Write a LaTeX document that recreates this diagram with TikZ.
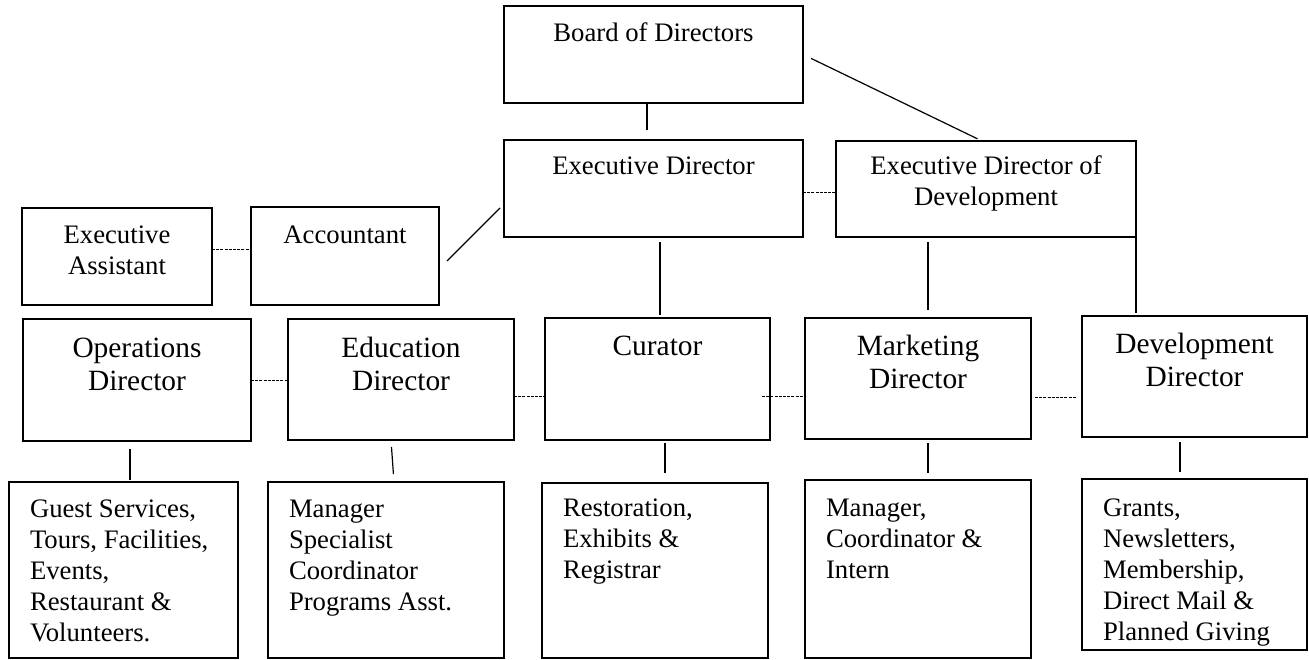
\documentclass[tikz,border=0pt]{standalone}
\usepackage{fontspec}
\setmainfont{Liberation Serif}
\usetikzlibrary{calc}
\newcommand{\fontA}{\fontsize{26.7pt}{31pt}\selectfont}
\newcommand{\fontB}{\fontsize{29.4pt}{33pt}\selectfont}
% centred box text: width, height, first baseline, font, text
\newcommand{\cbx}[5]{\begin{minipage}[t][#2][t]{#1}\centering#4\rule{0pt}{#3}#5\end{minipage}}
% left-aligned box text: width, height, first baseline, text
\newcommand{\lbx}[4]{\begin{minipage}[t][#2][t]{#1}\raggedright\leftskip=21pt\fontA\rule{0pt}{#3}#4\end{minipage}}
\tikzset{
  orgbox/.style={draw=black, line width=1.8pt, inner sep=0pt, outer sep=0pt, anchor=north west},
  link/.style={draw=black, line width=1.2pt},
  dotlink/.style={draw=black, line width=1pt, dash pattern=on 3pt off 1.2pt}
}
\begin{document}
\begin{tikzpicture}[x=1pt, y=-1pt]
\useasboundingbox (0,0) rectangle (1309,660);

% top level
\node[orgbox] (board) at (504,6) {\cbx{299pt}{97pt}{36pt}{\fontA}{Board of Directors}};
\node[orgbox] (ed) at (504,140) {\cbx{299pt}{97pt}{35pt}{\fontA}{Executive Director}};
\node[orgbox] (edd) at (836,141) {\cbx{300pt}{96pt}{34pt}{\fontA}{Executive Director of\\Development}};
\node[orgbox] (ea) at (22,208) {\cbx{190pt}{97pt}{36pt}{\fontA}{Executive\\Assistant}};
\node[orgbox] (acc) at (251,207) {\cbx{188pt}{98pt}{37pt}{\fontA}{Accountant}};

% directors row
\node[orgbox] (ops) at (23,319) {\cbx{228pt}{122pt}{38pt}{\fontB}{Operations\\Director}};
\node[orgbox] (edu) at (288,319) {\cbx{226pt}{121pt}{38pt}{\fontB}{Education\\Director}};
\node[orgbox] (cur) at (545,318) {\cbx{225pt}{122pt}{37pt}{\fontB}{Curator}};
\node[orgbox] (mkt) at (805,318) {\cbx{226pt}{121pt}{37pt}{\fontB}{Marketing\\Director}};
\node[orgbox] (dev) at (1082,316) {\cbx{225pt}{121pt}{37pt}{\fontB}{Development\\Director}};

% staff row
\node[orgbox] (guest) at (9,482) {\lbx{229pt}{176pt}{35pt}{Guest Services,\\Tours, Facilities,\\Events,\\Restaurant \&\\Volunteers.}};
\node[orgbox] (mgr) at (268,482) {\lbx{236pt}{176pt}{35pt}{Manager\\Specialist\\Coordinator\\Programs Asst.}};
\node[orgbox] (rest) at (542,483) {\lbx{226pt}{175pt}{33pt}{Restoration,\\Exhibits \&\\Registrar}};
\node[orgbox] (mint) at (805,480) {\lbx{226pt}{178pt}{36pt}{Manager,\\Coordinator \&\\Intern}};
\node[orgbox] (grants) at (1082,479) {\lbx{225pt}{171pt}{37pt}{Grants,\\Newsletters,\\Membership,\\Direct Mail \&\\Planned Giving}};

% solid connectors
\draw[link, shorten >=10pt] (board.south -| 647,0) -- (ed.north -| 647,0);
\draw[link, shorten <=9pt, shorten >=5pt] (board.east) -- (edd.north -| 982,0);
\draw[link] ($(acc.south east)+(8,-44)$) -- ($(ed.south west)+(-4,-29)$);
\draw[link, shorten <=5pt, shorten >=3pt] (ed.south -| 660,0) -- (cur.north -| 660,0);
\draw[link, shorten <=5pt, shorten >=8pt] (edd.south -| 928,0) -- (mkt.north -| 928,0);
\draw[link, shorten >=3pt] (edd.south east) -- (edd.south east |- dev.north);
\draw[link, shorten <=8pt, shorten >=2pt] (ops.south -| 130,0) -- (guest.north -| 130,0);
\draw[link, shorten <=7pt, shorten >=8pt] (edu.south -| 391,0) -- (mgr.north -| 394,0);
\draw[link, shorten <=3pt, shorten >=10pt] (cur.south -| 665,0) -- (rest.north -| 665,0);
\draw[link, shorten <=4pt, shorten >=7pt] (mkt.south -| 928,0) -- (mint.north -| 928,0);
\draw[link, shorten <=5pt, shorten >=7pt] (dev.south -| 1180,0) -- (grants.north -| 1180,0);

% dotted side connectors
\draw[dotlink] ([yshift=-4.5pt]ed.east) -- ([yshift=-4.5pt]ed.east -| edd.west);
\draw[dotlink] ([yshift=6.5pt]ea.east) -- ([yshift=6.5pt]ea.east -| acc.west);
\draw[dotlink] (ops.east) -- (ops.east -| edu.west);
\draw[dotlink] ([yshift=-16.5pt]edu.east) -- ([yshift=-16.5pt]edu.east -| cur.west);
\draw[dotlink, shorten <=-8pt] ([yshift=-17pt]cur.east) -- ([yshift=-17pt]cur.east -| mkt.west);
\draw[dotlink, shorten <=4pt, shorten >=6pt] ([yshift=-18.5pt]mkt.east) -- ([yshift=-18.5pt]mkt.east -| dev.west);
\end{tikzpicture}
\end{document}
